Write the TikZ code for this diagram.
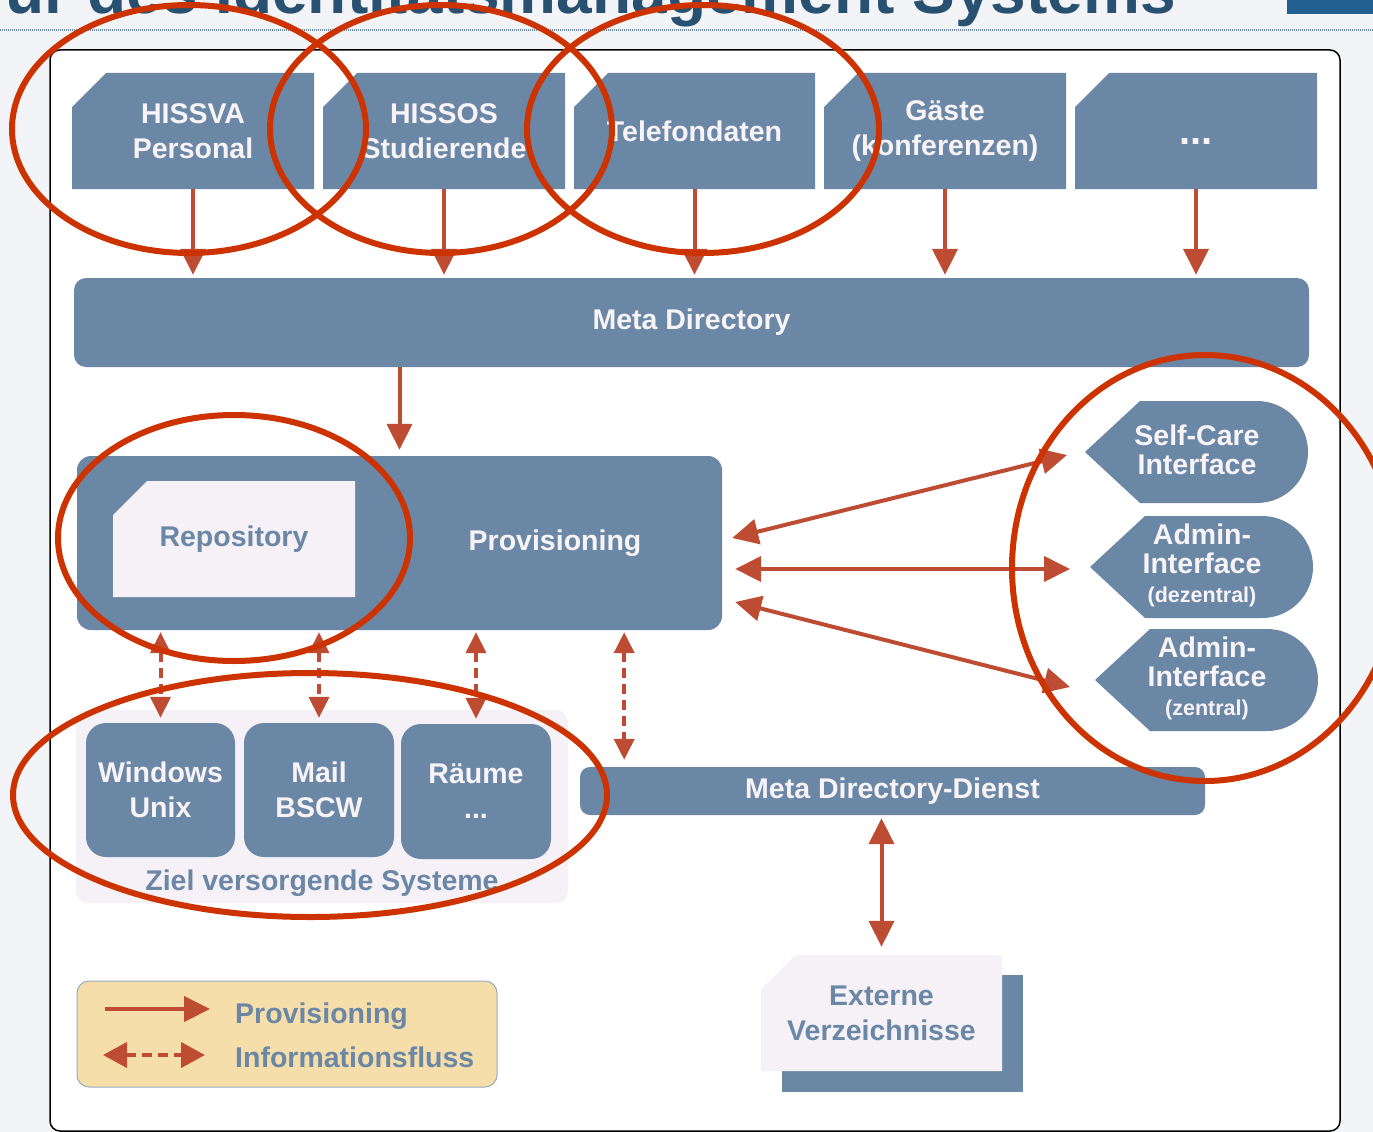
\documentclass[tikz,border=0pt]{standalone}
\usepackage{fontspec}
\setmainfont{Liberation Sans}
\usetikzlibrary{arrows.meta,calc}

\definecolor{IDMblue}{RGB}{107,135,166}
\definecolor{IDMtext}{RGB}{247,243,247}
\definecolor{IDMpale}{RGB}{246,241,246}
\definecolor{IDMarrow}{RGB}{190,76,50}
\definecolor{IDMring}{RGB}{204,51,0}
\definecolor{IDMlegend}{RGB}{246,222,170}
\definecolor{IDMgrey}{RGB}{243,244,247}
\definecolor{IDMtitle}{RGB}{40,80,112}
\definecolor{IDMtab}{RGB}{33,96,145}

\newcommand{\IDMFont}{\fontsize{28.5}{35}\selectfont\bfseries}
\newcommand{\IDMSmallFont}{\fontsize{21.5}{26}\selectfont\bfseries}
\newcommand{\IDMCut}{34}

\tikzset{
  box text/.style={text=IDMtext, font=\IDMFont, align=center, inner sep=0pt},
  pale text/.style={text=IDMblue, font=\IDMFont, align=center, inner sep=0pt},
  iface text/.style={text=IDMtext, font=\fontsize{28.5}{29}\selectfont\bfseries, align=center, inner sep=0pt},
  round box/.style={fill=IDMblue, rounded corners=12pt, inner sep=0pt, text=IDMtext, font=\IDMFont, align=center},
  prov arrow/.style={draw=IDMarrow, line width=4pt, -{Triangle[width=25pt,length=26pt]}},
  both arrow/.style={draw=IDMarrow, line width=4pt, {Triangle[width=25pt,length=26pt]}-{Triangle[width=25pt,length=26pt]}},
  info arrow/.style={draw=IDMarrow, line width=4pt, dash pattern=on 10pt off 6pt, {Triangle[width=20pt,length=21pt]}-{Triangle[width=20pt,length=21pt]}},
  ring/.style={draw=IDMring, line width=6pt}
}

% box with the upper left corner cut off: name, centre, width, height, fill, text style, text
\newcommand{\IDMCutBox}[7]{
  \coordinate (#1-c) at #2;
  \fill[#5] ($(#1-c)+({-#3/2},{-#4/2+\IDMCut})$) -- ($(#1-c)+({-#3/2+\IDMCut},{-#4/2})$)
    -- ($(#1-c)+({#3/2},{-#4/2})$) -- ($(#1-c)+({#3/2},{#4/2})$) -- ($(#1-c)+({-#3/2},{#4/2})$) -- cycle;
  \node[#6, minimum width=#3pt, minimum height=#4pt] (#1) at (#1-c) {#7};
}
% interface: point on the left, round on the right
\newcommand{\IDMInterface}[3]{
  \coordinate (#1-tip) at #2;
  \fill[IDMblue] (#1-tip) -- ++(55,-51) -- ++(117,0) arc[start angle=90,end angle=-90,radius=51pt] -- ++(-117,0) -- cycle;
  \node[iface text] (#1) at ($(#1-tip)+(112,-2)$) {#3};
}

\begin{document}
\begin{tikzpicture}[x=1pt,y=-1pt]
\useasboundingbox (0,0) rectangle (1373,1132);
\clip (0,0) rectangle (1373,1132);
\fill[IDMgrey] (0,0) rectangle (1373,1132);

\node[anchor=base east, text=IDMtitle, font=\fontsize{64}{64}\selectfont\bfseries, inner sep=0pt] (title) at (1176,14) {ur des Identitätsmanagement Systems};
\fill[IDMtab] (1287,0) rectangle (1373,14);
\draw[IDMblue, line width=1.2pt, dash pattern=on 1pt off 1pt] (0,30) -- (1373,30);
\draw[fill=white, line width=1.5pt, rounded corners=10pt] (50,50) rectangle (1340,1131);

% quellen
\IDMCutBox{hissva}{(193,131)}{242}{116}{IDMblue}{box text}{HISSVA\\Personal}
\IDMCutBox{hissos}{(444,131)}{242}{116}{IDMblue}{box text}{HISSOS\\Studierende}
\IDMCutBox{telefon}{(694.5,131)}{241}{116}{IDMblue}{box text}{Telefondaten}
\IDMCutBox{gaeste}{(945,131)}{242}{116}{IDMblue}{box text}{\raisebox{-3pt}{Gäste}\\\raisebox{-3pt}{(konferenzen)}}
\IDMCutBox{more}{(1196,131)}{242}{116}{IDMblue}{box text}{\raisebox{-13pt}[0pt][0pt]{\fontsize{40}{40}\selectfont...}}

\node[round box, minimum width=1235pt, minimum height=89pt] (metadir) at (691.5,322.5) {Meta Directory};
\foreach \src in {hissva,hissos,telefon,gaeste,more}
  \draw[prov arrow, shorten >=3pt] (\src.south) -- (\src.south |- metadir.north);

% provisioning
\node[round box, rounded corners=14pt, minimum width=645pt, minimum height=174pt] (prov) at (399.5,543) {};
\node[box text] (provlabel) at (555,543) {Provisioning};
\IDMCutBox{repo}{(234,539)}{242}{116}{IDMpale}{pale text}{Repository}
\draw[prov arrow, shorten >=6pt] (prov.north |- metadir.south) -- (prov.north);

% zielsysteme
\node[fill=IDMpale, rounded corners=12pt, inner sep=0pt, minimum width=492pt, minimum height=193pt] (ziel) at (322,806.5) {};
\node[pale text, anchor=base] (ziellabel) at (322,890) {Ziel versorgende Systeme};
\node[round box, rounded corners=20pt, minimum width=149pt, minimum height=134pt] (windows) at (160.5,790) {Windows\\Unix};
\node[round box, rounded corners=20pt, minimum width=150pt, minimum height=134pt] (mail) at (319,790) {Mail\\BSCW};
\node[round box, rounded corners=20pt, minimum width=150pt, minimum height=135pt] (raeume) at (476,791.5) {Räume\\...};
\foreach \tgt in {windows,mail,raeume}
  \draw[info arrow, shorten <=2pt, shorten >=5pt] (\tgt.north |- prov.south) -- (\tgt.north);

\node[round box, rounded corners=10pt, minimum width=625pt, minimum height=48pt] (mdd) at (892.5,791) {Meta Directory-Dienst};
\draw[info arrow, shorten <=2pt, shorten >=7pt] ([xshift=-98pt]prov.south east) -- ([xshift=-98pt]prov.south east |- mdd.north);

% externe verzeichnisse
\node[fill=IDMblue, inner sep=0pt, minimum width=241pt, minimum height=117pt] (extshadow) at (902.5,1033.5) {};
\IDMCutBox{extern}{(881.5,1013)}{241}{116}{IDMpale}{pale text}{Externe\\Verzeichnisse}
\draw[both arrow, shorten <=3pt, shorten >=8pt] (mdd.south -| extern.north) -- (extern.north);

% interfaces
\IDMInterface{selfcare}{(1085,452)}{Self-Care\\Interface}
\IDMInterface{admindez}{(1090,567)}{Admin-\\Interface\\{\IDMSmallFont (dezentral)}}
\IDMInterface{adminzen}{(1095,680)}{Admin-\\Interface\\{\IDMSmallFont (zentral)}}
\draw[both arrow] ([xshift=10pt,yshift=5pt]prov.east) -- ([xshift=-18pt,yshift=-3pt]selfcare-tip);
\draw[both arrow] ([xshift=13pt,yshift=-26pt]prov.east) -- ([xshift=-20pt,yshift=-2pt]admindez-tip);
\draw[both arrow] ([xshift=13pt,yshift=-59pt]prov.east) -- ([xshift=-25pt,yshift=-7pt]adminzen-tip);

% legende
\node[fill=IDMlegend, draw=IDMblue!70, line width=1pt, rounded corners=12pt, inner sep=0pt, minimum width=420pt, minimum height=106pt] (legend) at (287,1034) {};
\coordinate (legprov-a) at (105,1009);
\coordinate (legprov-b) at (210,1009);
\coordinate (leginfo-a) at (103,1055);
\coordinate (leginfo-b) at (205,1055);
\draw[prov arrow] (legprov-a) -- (legprov-b);
\draw[info arrow, {Triangle[width=25pt,length=24pt]}-{Triangle[width=25pt,length=24pt]}] (leginfo-a) -- (leginfo-b);
\node[pale text, anchor=base west] (legprovtext) at (235,1023) {Provisioning};
\node[pale text, anchor=base west] (leginfotext) at (235,1067) {Informationsfluss};

% markierungen
\draw[ring] (189,129) ellipse [x radius=177pt, y radius=124pt];
\draw[ring] (441,129) ellipse [x radius=171pt, y radius=124pt];
\draw[ring] (703,129) ellipse [x radius=176pt, y radius=124pt];
\draw[ring] (234,538) ellipse [x radius=176pt, y radius=123pt];
\draw[ring] (310,795) ellipse [x radius=297pt, y radius=122pt];
\draw[ring] (1205,568) ellipse [x radius=193pt, y radius=213pt];
\end{tikzpicture}
\end{document}
